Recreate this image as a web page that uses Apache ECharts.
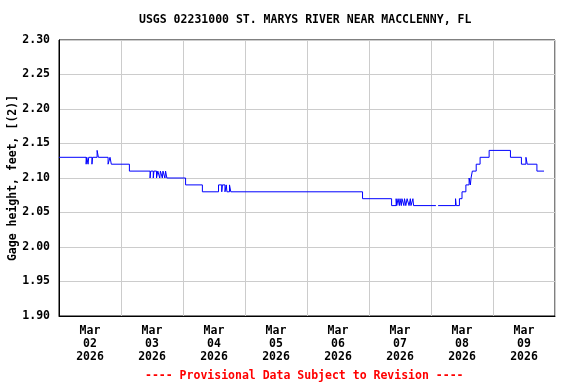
<!DOCTYPE html>
<html>
<head>
<meta charset="utf-8">
<script src="https://cdn.jsdelivr.net/npm/echarts@6/dist/echarts.min.js"></script>
<style>
html,body{margin:0;padding:0;background:#fff;}
#c{width:576px;height:384px;}
</style>
</head>
<body>
<div id="c"></div>
<script>
// Hours since Mar 02 2026 00:00 at which gage height changes (step value holds until next point)
var hours = [0, 10.5, 10.75, 11.25, 11.5, 12.75, 13.0, 14.75, 15.25, 19.0, 19.75, 20.25, 27.25,
  35.25, 35.5, 36.5, 36.75, 37.75, 38.25, 39.0, 39.25, 40.0, 40.25, 41.0, 41.25, 41.75,
  49.0, 55.5, 61.75, 63.0, 63.25, 64.25, 64.75, 65.0, 66.0, 66.5,
  117.5, 128.75, 130.5, 130.75, 131.25, 131.75, 132.0, 132.5, 132.75, 133.5, 133.75, 134.25,
  134.75, 135.5, 136.0, 136.25, 137.0, 137.25, 145.9, 146.0, 146.75,
  153.5, 153.75, 155.0, 156.0, 157.5, 158.75, 159.25, 159.5, 160.0, 161.5, 163.0, 166.5,
  174.75, 179.0, 180.75, 181.25, 185.0, 187.75];
var gage = [2.13, 2.12, 2.13, 2.12, 2.13, 2.12, 2.13, 2.14, 2.13, 2.12, 2.13, 2.12, 2.11,
  2.10, 2.11, 2.10, 2.11, 2.10, 2.11, 2.10, 2.11, 2.10, 2.11, 2.10, 2.11, 2.10,
  2.09, 2.08, 2.09, 2.08, 2.09, 2.08, 2.09, 2.08, 2.09, 2.08,
  2.07, 2.06, 2.07, 2.06, 2.07, 2.06, 2.07, 2.06, 2.07, 2.06, 2.07, 2.06,
  2.07, 2.06, 2.07, 2.06, 2.07, 2.06, 2.06, null, 2.06,
  2.07, 2.06, 2.07, 2.08, 2.09, 2.10, 2.09, 2.10, 2.11, 2.12, 2.13, 2.14,
  2.13, 2.12, 2.13, 2.12, 2.11, 2.11];
var dayLabels = ['Mar\n02\n2026', 'Mar\n03\n2026', 'Mar\n04\n2026', 'Mar\n05\n2026',
  'Mar\n06\n2026', 'Mar\n07\n2026', 'Mar\n08\n2026', 'Mar\n09\n2026'];
var titleText = 'USGS 02231000 ST. MARYS RIVER NEAR MACCLENNY, FL';
var yName = 'Gage height, feet, [(2)]';
var footer = '---- Provisional Data Subject to Revision ----';

var FONT = '"DejaVu Sans Mono", monospace';
var data = hours.map(function (h, i) { return [h, gage[i]]; });

var chart = echarts.init(document.getElementById('c'), null, {renderer: 'canvas'});
chart.setOption({
  animation: false,
  backgroundColor: '#fff',
  grid: {left: 59, right: 21, top: 40, bottom: 68, containLabel: false, outerBoundsMode: 'none',
    show: true, borderColor: '#000', borderWidth: 1, backgroundColor: 'transparent'},
  xAxis: [{
    type: 'value', min: 0, max: 192, interval: 24,
    axisLine: {show: true, lineStyle: {color: '#000'}},
    axisTick: {show: false},
    axisLabel: {show: false},
    splitLine: {show: true, lineStyle: {color: '#cccccc', width: 1}}
  }, {
    type: 'category', data: dayLabels, boundaryGap: true, position: 'bottom',
    axisLine: {show: false}, axisTick: {show: false}, splitLine: {show: false},
    axisLabel: {show: true, margin: 9, color: '#000', fontFamily: FONT, fontWeight: 'bold', fontSize: 11.5, lineHeight: 13, interval: 0}
  }],
  yAxis: {
    type: 'value', min: 1.9, max: 2.3, interval: 0.05,
    name: yName, nameLocation: 'middle', nameGap: 40, nameRotate: 90, nameMoveOverlap: false,
    nameTextStyle: {color: '#000', fontFamily: FONT, fontWeight: 'bold', fontSize: 11.5},
    axisLine: {show: true, lineStyle: {color: '#000'}},
    axisTick: {show: false},
    axisLabel: {color: '#000', fontFamily: FONT, fontWeight: 'bold', fontSize: 11.5, margin: 9,
      formatter: function (v) { return v.toFixed(2); }},
    splitLine: {show: true, lineStyle: {color: '#cccccc', width: 1}}
  },
  graphic: [{
    type: 'text', top: 14, left: 139,
    style: {text: titleText, fill: '#000', font: 'bold 11.5px ' + FONT}
  }, {
    type: 'text', top: 370, left: 145,
    style: {text: footer, fill: '#ff0000', font: 'bold 11.5px ' + FONT}
  }],
  series: [{
    type: 'line', xAxisIndex: 0, data: data, step: 'end', showSymbol: false, symbol: 'none',
    connectNulls: false,
    lineStyle: {color: '#0000ff', width: 1}
  }]
});
</script>
</body>
</html>
